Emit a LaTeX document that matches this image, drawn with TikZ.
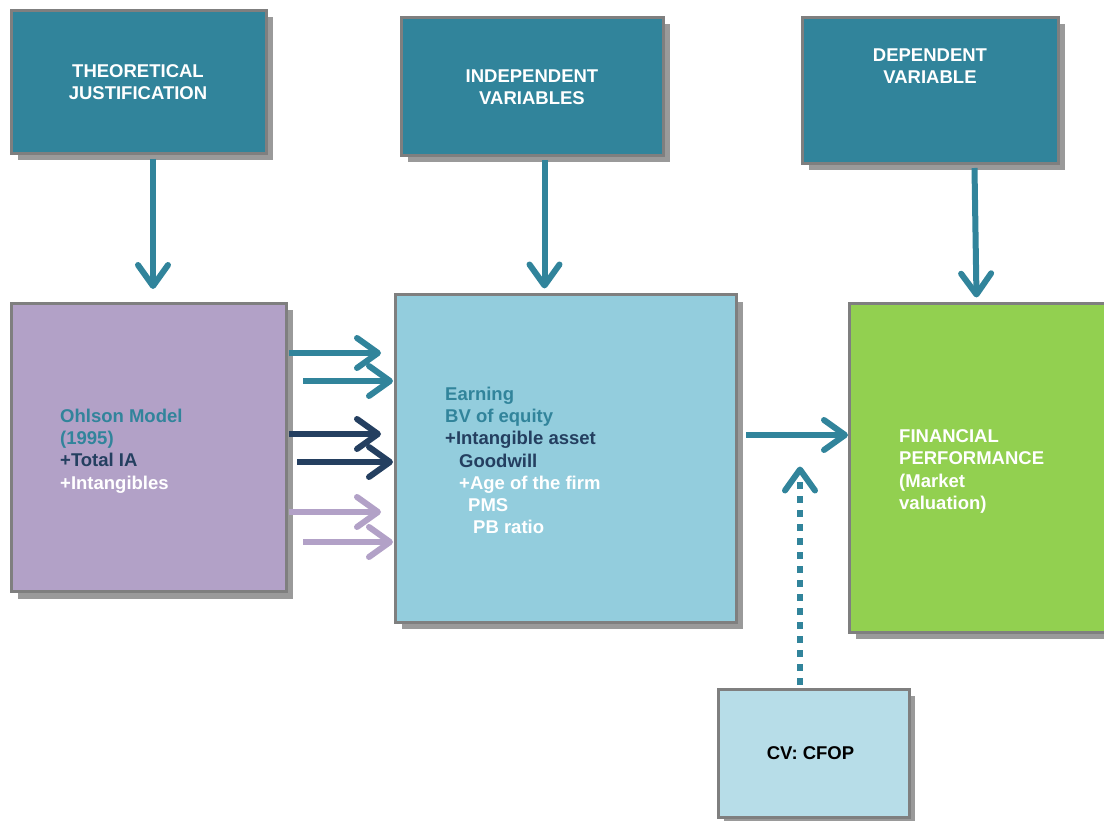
\documentclass[tikz,border=0pt]{standalone}
\usepackage{fontspec}
\setmainfont{Liberation Sans}
\usetikzlibrary{arrows.meta,calc,shadows}
\definecolor{tealc}{HTML}{31849B}
\definecolor{navyc}{HTML}{243F60}
\definecolor{purplec}{HTML}{B2A1C7}
\definecolor{lblue}{HTML}{93CDDD}
\definecolor{greenc}{HTML}{92D050}
\definecolor{cvblue}{HTML}{B7DDE8}
\definecolor{bordc}{HTML}{7F7F7F}
\definecolor{shadc}{HTML}{9A9A9A}
\begin{document}
\begin{tikzpicture}[x=1pt,y=-1pt,
  box/.style={draw=bordc, line width=3pt, rectangle, inner sep=0pt,
    drop shadow={shadow xshift=6pt, shadow yshift=-7pt, fill=shadc, opacity=1}},
  headbox/.style={box, fill=tealc},
  txt/.style={font=\fontsize{18.5}{22.3}\selectfont\bfseries, inner sep=0pt},
  arr/.style={line width=6pt, -{Straight Barb[length=21pt,width=30pt,round]}},
  dotarr/.style={arr, dash pattern=on 7pt off 7pt}
]
\useasboundingbox (0,0) rectangle (1104,821);
\fill[white] (0,0) rectangle (1104,821);

% boxes
\node[headbox, minimum width=255pt, minimum height=143pt] (th) at (139,82) {};
\node[headbox, minimum width=262pt, minimum height=138pt] (ind) at (532.5,86.5) {};
\node[headbox, minimum width=256pt, minimum height=146pt] (dep) at (930.5,90.5) {};
\node[box, fill=purplec, minimum width=275pt, minimum height=288pt] (ohl) at (149,447.5) {};
\node[box, fill=lblue, minimum width=341pt, minimum height=327pt] (mid) at (566,458.5) {};
\node[box, fill=greenc, minimum width=262pt, minimum height=328pt] (fin) at (980.5,468) {};
\node[box, fill=cvblue, minimum width=191pt, minimum height=128pt] (cv) at (813.5,753) {};

% texts
\node[txt, white, align=center, anchor=north] (thT) at (138,64.5) {THEORETICAL\\JUSTIFICATION};
\node[txt, white, align=center, anchor=north] (indT) at (532,69.5) {INDEPENDENT\\VARIABLES};
\node[txt, white, align=center, anchor=north] (depT) at (930,48.5) {DEPENDENT\\VARIABLE};
\node[txt, align=left, anchor=north west] (ohlT) at (60,408.5)
  {\textcolor{tealc}{Ohlson Model}\\\textcolor{tealc}{(1995)}\\\textcolor{navyc}{+Total IA}\\\textcolor{white}{+Intangibles}};
\node[txt, align=left, anchor=north west] (midT) at (445,386.5)
  {\textcolor{tealc}{Earning}\\\textcolor{tealc}{BV of equity}\\\textcolor{navyc}{+Intangible asset}\\\hspace*{14pt}\textcolor{navyc}{Goodwill}\\\hspace*{14pt}\textcolor{white}{+Age of the firm}\\\hspace*{23pt}\textcolor{white}{PMS}\\\hspace*{28pt}\textcolor{white}{PB ratio}};
\node[txt, white, align=left, anchor=north west] (finT) at (899,429.5)
  {FINANCIAL\\PERFORMANCE\\(Market\\valuation)};
\node[txt, black] (cvT) at (810.5,753) {CV: CFOP};

% vertical arrows
\draw[arr, tealc] ($(th.south)+(14,4)$) -- ($(ohl.north)+(4,-13)$);
\draw[arr, tealc] ($(ind.south)+(12,3)$) -- ($(mid.north)+(-21.5,-5)$);
\draw[arr, tealc] ($(dep.south)+(44,3)$) -- ($(fin.north)+(-4,-5)$);

% horizontal arrows
\coordinate (a1) at ($(ohl.east)+(1,-94.5)$);
\coordinate (a2) at ($(ohl.east)+(15,-66.5)$);
\coordinate (a3) at ($(ohl.east)+(1,-13.5)$);
\coordinate (a4) at ($(ohl.east)+(9,14.5)$);
\coordinate (a5) at ($(ohl.east)+(1,64.5)$);
\coordinate (a6) at ($(ohl.east)+(15,94.5)$);
\draw[arr, tealc] (a1) -- ($(mid.west |- a1)+(-13,0)$);
\draw[arr, tealc] (a2) -- ($(mid.west |- a2)+(-1,0)$);
\draw[arr, navyc] (a3) -- ($(mid.west |- a3)+(-13,0)$);
\draw[arr, navyc] (a4) -- ($(mid.west |- a4)+(-1,0)$);
\draw[arr, purplec] (a5) -- ($(mid.west |- a5)+(-13,0)$);
\draw[arr, purplec] (a6) -- ($(mid.west |- a6)+(-1,0)$);

\coordinate (b1) at ($(mid.east)+(8,-23.5)$);
\draw[arr, tealc] (b1) -- (fin.west |- b1);

% dotted control-variable arrow
\draw[dotarr, tealc] ($(cv.north)+(-13.5,-3)$) -- ($(cv.north)+(-13.5,-221)$);
\end{tikzpicture}
\end{document}
